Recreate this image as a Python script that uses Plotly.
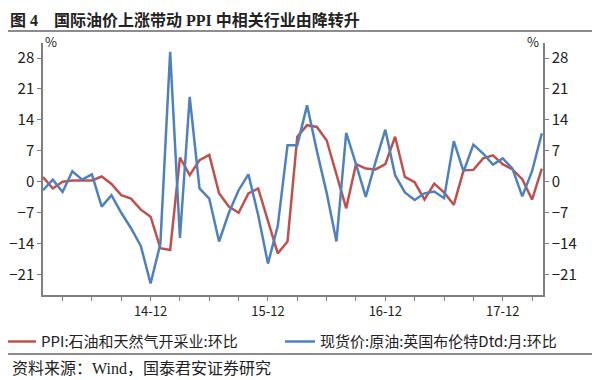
import pandas as pd
import plotly.graph_objects as go

# Monthly categories (2014-01 .. 2018-04)
months = [d.strftime("%Y-%m") for d in pd.period_range("2014-01", "2018-04", freq="M")]

ppi_oil_gas = [1.1, -1.5, 0.0, 0.3, 0.3, 0.3, 1.2, -0.5, -3.0, -3.8, -6.3, -7.9,
               -15.0, -15.4, 5.5, 1.5, 4.9, 6.1, -2.6, -5.6, -7.0, -2.6, -1.5, -9.0,
               -16.2, -13.5, 10.2, 12.8, 12.4, 9.4, 1.9, -6.0, 4.0, 3.0, 2.8, 4.0,
               10.2, 1.1, -0.1, -4.0, -0.4, -2.4, -5.2, 2.6, 2.7, 5.3, 6.0, 4.0,
               2.8, 0.6, -4.0, 3.0]
brent_dtd = [-1.9, 0.5, -2.3, 2.4, 0.5, 1.7, -5.6, -3.0, -7.0, -10.5, -14.5, -23.0,
             -14.0, 29.4, -12.7, 19.2, -1.5, -3.8, -13.5, -7.0, -1.9, 1.7, -7.5, -18.5,
             -10.0, 8.3, 8.3, 17.3, 7.0, -2.5, -13.5, 11.1, 4.0, -3.4, 4.5, 11.8,
             1.5, -2.4, -4.1, -2.6, -2.2, -3.7, 9.2, 2.3, 8.4, 6.4, 3.9, 5.3,
             3.0, -3.3, 2.4, 11.0]

series_names = ["PPI:石油和天然气开采业:环比", "现货价:原油:英国布伦特Dtd:月:环比"]
y_ticks = [-21, -14, -7, 0, 7, 14, 21, 28]
quarter_months = [m for m in months if m[5:] in ("03", "06", "09", "12")]
tick_text = [(m[2:4] + "-12") if m.endswith("-12") else "" for m in quarter_months]

title_text = "<b>图 4　国际油价上涨带动 PPI 中相关行业由降转升</b>"
source_text = "资料来源：Wind，国泰君安证券研究"

SANS = "Noto Sans CJK SC, Liberation Sans, sans-serif"
SERIF = "Liberation Serif, Noto Sans CJK SC, serif"
AX = "#7f7f7f"

fig = go.Figure()
fig.add_trace(go.Scatter(x=months, y=ppi_oil_gas, name=series_names[0], mode="lines",
                         line=dict(color="#C0504D", width=2.5), legend="legend"))
fig.add_trace(go.Scatter(x=months, y=brent_dtd, name=series_names[1], mode="lines",
                         line=dict(color="#4F81BD", width=2.5), legend="legend2"))

yr = [-25.6, 31.4]
legend_common = dict(orientation="h", xanchor="left", y=-0.12, yanchor="top",
                     font=dict(size=15, color="#222", family=SANS),
                     bgcolor="rgba(0,0,0,0)")
fig.update_layout(
    width=600, height=380, autosize=False,
    margin=dict(l=35, r=65, t=35, b=93, autoexpand=False),
    paper_bgcolor="white", plot_bgcolor="white",
    font=dict(family=SANS, size=14, color="#222"),
    xaxis=dict(type="category", range=[0, 51.12], tickmode="array",
               tickvals=quarter_months, ticktext=tick_text, automargin=False,
               ticks="outside", ticklen=4, tickcolor=AX, tickwidth=1,
               showline=True, linecolor=AX, linewidth=1.5, showgrid=False,
               tickfont=dict(size=13, color="#222")),
    yaxis=dict(range=yr, tickvals=y_ticks, ticks="outside", ticklen=4, automargin=False,
               tickcolor=AX, showline=True, linecolor=AX, linewidth=1.5,
               showgrid=False, zeroline=False, tickfont=dict(size=15, color="#222")),
    yaxis2=dict(range=yr, tickvals=y_ticks, ticks="outside", ticklen=4, automargin=False,
                tickcolor=AX, showline=True, linecolor=AX, linewidth=1.5,
                showgrid=False, zeroline=False, overlaying="y", side="right",
                tickfont=dict(size=15, color="#222")),
    legend=dict(x=-0.084, **legend_common),
    legend2=dict(x=0.474, **legend_common),
    showlegend=True,
)
# invisible trace to activate the right axis
fig.add_trace(go.Scatter(x=[months[0]], y=[0], yaxis="y2", showlegend=False,
                         mode="markers", marker=dict(opacity=0), hoverinfo="skip"))

fig.add_annotation(text=title_text, xref="paper", yref="paper", x=-0.07, y=1.133,
                   xanchor="left", yanchor="top", showarrow=False,
                   font=dict(family=SERIF, size=16, color="#222"))
fig.add_annotation(text="%", xref="paper", yref="paper", x=0.016, y=1.004,
                   xanchor="center", yanchor="middle", showarrow=False,
                   font=dict(size=13, color="#222"))
fig.add_annotation(text="%", xref="paper", yref="paper", x=0.98, y=1.004,
                   xanchor="center", yanchor="middle", showarrow=False,
                   font=dict(size=13, color="#222"))
fig.add_annotation(text=source_text, xref="paper", yref="paper", x=-0.066, y=-0.29,
                   xanchor="left", yanchor="middle", showarrow=False,
                   font=dict(family=SERIF, size=16, color="#222"))
fig.add_shape(type="line", xref="paper", yref="paper", x0=-0.1, x1=1.13,
              y0=1.0476, y1=1.0476, line=dict(color="#8c8c8c", width=2))
fig.add_shape(type="line", xref="paper", yref="paper", x0=-0.1, x1=1.13,
              y0=-0.234, y1=-0.234, line=dict(color="#8c8c8c", width=2))

fig.write_html("out.html")
